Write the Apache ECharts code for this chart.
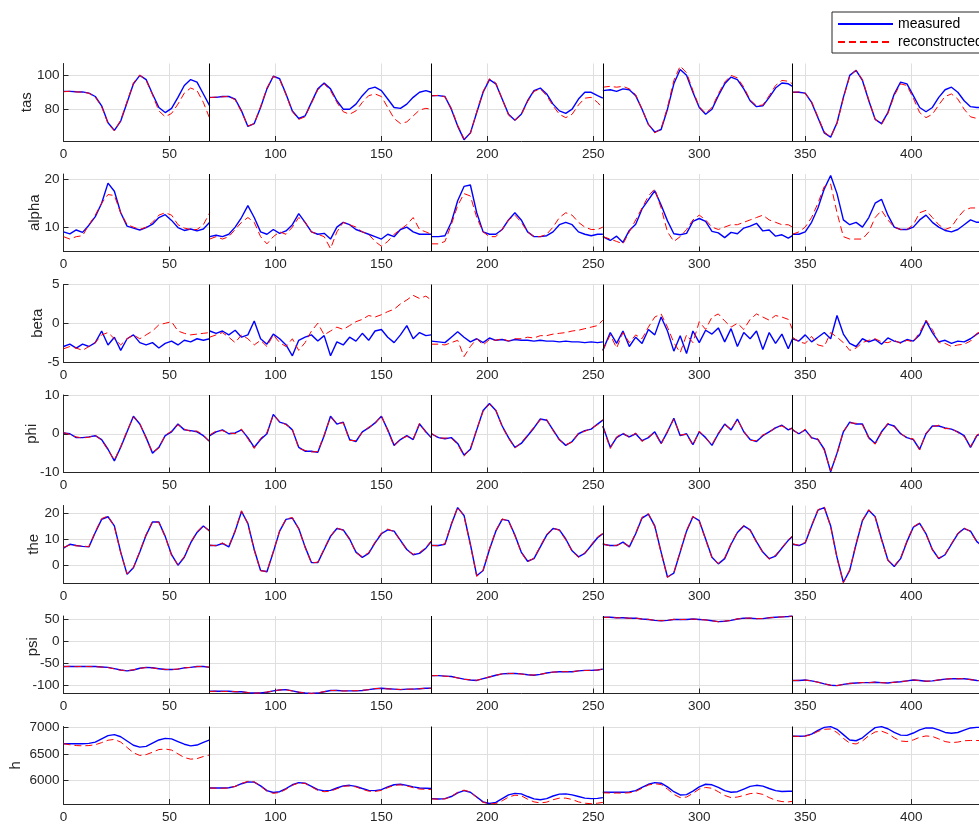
<!DOCTYPE html>
<html>
<head>
<meta charset="utf-8">
<script src="https://cdn.jsdelivr.net/npm/echarts@6.0.0/dist/echarts.min.js"></script>
<style>
html,body{margin:0;padding:0;background:#fff;}
#chart{width:979px;height:825px;}
</style>
</head>
<body>
<div id="chart"></div>
<script>
// ---- time stamps (segments separated by a repeated boundary time) ----
const t = [
  0,3,6,9,12,15,18,21,24,27,30,33,36,39,42,45,48,51,54,57,60,63,66,69,
  69,72,75,78,81,84,87,90,93,96,99,102,105,108,111,114,117,120,123,126,129,132,135,138,141,144,147,150,153,156,159,162,165,168,171,173.5,
  173.5,177,180,183,186,189,192,195,198,201,204,207,210,213,216,219,222,225,228,231,234,237,240,243,246,249,252,254.5,
  254.5,258,261,264,267,270,273,276,279,282,285,288,291,294,297,300,303,306,309,312,315,318,321,324,327,330,333,336,339,342,344,
  344,347,350,353,356,359,362,365,368,371,374,377,380,383,386,389,392,395,398,401,404,407,410,413,416,419,422,425,428,431,434
];
const segmentBounds = [69, 173.5, 254.5, 344];
const xTicks = [0,50,100,150,200,250,300,350,400];

const tasMeas = [
  90.5,90.5,90.3,90.2,89.5,87.5,82,72,67.5,73,84,95,100,97.5,89,81,78,80.5,87,94,97.5,96,89,82,
  87,87,87.5,87.5,86,79,69.8,71.5,81,92,99.5,98,89,79,74.5,76,84,92,95.5,92,85,80,80,83,88,92,93,91,86,81,80.5,83,87,90,91,90,
  88,88,87.5,80,70,62,66,78,90,97.5,95,86,77,73.5,77,85,91,92.5,89,83,79,77.5,80,86,90,90,88,86.5,
  91,91.5,90.5,92,91.5,88,80,71,66.5,68,80,95,103.5,100,90,81,77,80,88,95,99,97.5,92,85,81.5,82,87,92.5,95.5,95,93.5,
  90,90,89.5,84,75,66,63.5,72,87,100,103,97,85,74,71.5,78,89,96,95,88,81,78.5,81,87,91.5,93,90,85,81.5,81,81
];
const tasRec = [
  90.3,90.6,90.2,90.1,89.4,87.2,81.5,71.5,67.2,73.5,84.5,95.5,100.2,97,88.5,79,75.5,77.5,83,89.5,92.5,91,84,74.5,
  86.8,87.2,87.3,87.6,85.5,78.5,70,71.5,81.5,92.5,99.5,97.5,88.5,78.5,74,75.5,83.5,91.5,95,91,84,78.5,77,79,84,88,89,87.5,81,74.5,71.5,72.5,76,79.5,80.5,80,
  87.8,88.2,87.3,80.5,70.5,62.5,65.5,78.5,90.5,98,95.5,86,76.5,73.5,76.5,84.5,90.5,92,88,82,77,75,77,82.5,86.5,87,84,80.5,
  93,93.5,93,93.5,92,88.5,80,71,66,68.5,81,97,105.5,101.5,91,81.5,77.5,81,89,96,100,98.5,93,85.5,82,82.5,88,94,97,96.5,95,
  90,90.2,89.3,84.5,75.5,66.5,63.5,71.5,86.5,99.5,103,97.5,85.5,74,71,77.5,88,95,94,86.5,78,75,77,82.5,87.5,89,86,80,75.5,74.5,75
];
const alphaMeas = [
  9,8.6,9.4,8.9,10.4,12.2,15,19.2,17.5,13,10.2,9.8,9.4,9.9,10.6,12,12.6,11.4,9.9,9.3,9.6,9.2,9.6,11,
  8,8.3,8,8.5,10,12,14.5,12,9,8.5,9.5,8.7,9.2,10.5,12.8,11,9,8.5,8.7,7.5,10,11,10.5,9.5,9,8.5,8,7.5,8.5,8,9.5,10,9,8.5,8.5,8.5,
  8,8,8.2,11,15.5,18.5,18.8,13,9,8.5,8.5,9.5,11.5,13,11.5,9,8,8,8.2,9,10.5,11,10.5,9,8.5,8.2,8.5,8.5,
  8,7.2,8.1,6.8,9.3,10.6,13.8,15.7,17.6,14.6,11.3,8.6,8.4,8.7,11.2,11.8,11.2,9.1,8.8,7.8,8.9,8.6,9.8,10.2,10.8,9.2,9.4,8.1,8.4,7.7,8.2,
  8.5,8.5,9,11,14,18,20.8,17,11.5,10.5,11,10,12,15,15.8,12.5,10,9.5,9.5,10,11.5,12.5,11,10,9.3,9,9.5,10.5,11.5,11,11
];
const alphaRec = [
  8,7.5,8,8.2,10.5,12.5,15,16.8,16.6,13,10.5,10,9.5,10,11,12.5,13,12.5,10.5,9.8,9.5,9.5,10.5,13,
  7.5,8,7.5,8,9.5,11,12,11,8,6.5,8,9,8.5,10,12,11,9,8.5,8,5.5,9,11,10.5,10,9,8.5,7,6,7,8.5,9.5,10.5,12,9.5,9,8.5,
  6.5,6.5,7,10.5,14.5,17,16.5,12,9,8,8,9.5,11.5,12.5,11,9,8,8,8.5,10,12,13,12.5,11,10,9.5,9.5,10,
  8,7.5,7,6.5,9,11.5,14,16.5,18,14,9,7,8,9.5,11.5,12.5,11.5,10,9.5,10,10.5,10.5,11,11.5,12,12.5,11.5,11,10.5,10.5,10,
  8.5,9,10,12,15,18.5,19,13,8,7.5,7.5,7.5,9,12,13.5,11.5,10,9.5,9.5,10.5,13,13.5,12,10.5,9.5,10,12,13.5,14,14,14
];
const betaMeas = [
  -3,-2.7,-3.2,-2.7,-3,-2.5,-1,-2.8,-1.8,-3.5,-2,-1.5,-2.5,-2.8,-2.5,-3.2,-2.6,-2.3,-2.8,-2.2,-2.4,-2,-2.2,-2,
  -1,-1.3,-1,-1.5,-0.9,-1.8,-1.5,0.3,-2,-2.7,-1.4,-2,-2.8,-4.2,-2.2,-1.8,-1.5,-2.3,-1.6,-4.2,-2.4,-2.8,-1.8,-2.3,-1.3,-2.2,-1,-0.8,-1.8,-2.5,-1.5,-0.3,-2,-1.2,-1.6,-1.5,
  -2.3,-2.4,-2.5,-1.8,-1.1,-1.8,-2.4,-2,-2.5,-1.9,-2.2,-2.1,-2.3,-2.1,-2.2,-2.2,-2.3,-2.2,-2.3,-2.3,-2.4,-2.3,-2.4,-2.4,-2.5,-2.4,-2.5,-2.4,
  -3.5,-1.2,-2.6,-1,-3,-1.8,-2.6,-0.8,-1.5,0.8,-1,-3.6,-1.6,-3.9,-1,-2.5,-0.9,-1.4,-0.6,-2.4,-0.7,-3,-1.2,-2,-1,-3.4,-1.2,-2.6,-1.4,-3.3,-2,
  -2,-2.3,-1.5,-2.4,-1.8,-1.2,-2,1,-1.4,-2.6,-3,-2,-2.4,-2.1,-2.7,-1.9,-2.3,-2.5,-2.1,-2.3,-1.5,0.3,-1.2,-2.4,-2.2,-2.6,-2.3,-2.4,-2,-1.4,-1
];
const betaRec = [
  -3.3,-3,-3.2,-3.5,-3,-2.5,-1.5,-1.2,-2,-2.8,-2,-1.5,-2,-1.5,-1,-0.2,0,0.2,-1,-1.3,-1.5,-1.4,-1.3,-1.2,
  -1.8,-1.5,-1.2,-1.8,-2.5,-1.5,-2,-2.8,-2.2,-3,-1.5,-2.5,-3,-2,-3.5,-2.5,-1,0,-1.5,-1,-0.5,-0.8,-0.3,0.2,0.5,1,0.8,1.1,1.5,1.8,2.5,3,3.6,3.2,3.5,3,
  -2.7,-2.7,-2.8,-2.5,-2.2,-4.3,-3,-2,-2.8,-2.1,-2.2,-2,-2.3,-2,-2,-1.8,-1.9,-1.6,-1.6,-1.4,-1.3,-1.2,-1,-0.9,-0.7,-0.5,-0.3,0.4,
  -3.5,-1.5,-3.2,-1.2,-2.5,-1.5,-2,-0.5,0.8,1.2,-0.5,-2.5,-3.8,-1.5,-2.5,0.2,-0.8,0.8,1.2,0.3,-0.5,0,-0.8,0.5,1.2,0.8,0.4,1,0.8,0.5,-0.8,
  -1.8,-2.4,-2.6,-1.7,-2.8,-3,-1.2,-1.8,-2.5,-3.5,-3.2,-2.5,-2.2,-2,-2.4,-2.5,-2.2,-2.6,-2.2,-2.4,-1.2,0.4,-0.8,-2.5,-2.6,-3,-2.8,-2.7,-2.3,-1.3,-1
];
const phiMeas = [
  0.2,0,-1,-1,-0.8,-0.5,-1.5,-4,-7,-3.5,0.5,4.5,2.5,-1,-5,-3.5,-0.5,0.5,2.5,1,0.8,0.5,-0.5,-2,
  -0.5,0.5,1,0,0.2,1,-1,-3.5,-1.5,0,5,3,2.5,1,-3.5,-4.5,-4.5,-4.8,-0.5,4.5,2.5,3,-1.5,-2,0.5,1.5,2.8,4.5,1,-3,-1.5,-0.5,-1.5,2.5,0.5,-1,
  0,-1,-1.3,-1,-2.5,-5.5,-4,1,6,7.8,6,2,-1,-3.5,-2.5,-0.5,1.5,3.8,3.5,1,-1.5,-3,-2,0,0.8,1.2,2.5,3.5,
  2,-3.5,-1,0,-0.8,0,-1.8,-1,0.5,-2.5,0.5,4,-0.5,0,-2.8,0.5,-1,-3,0,2.5,1,3.8,0.5,-1.5,-2,-0.5,0.5,1.5,2.2,1,1.5,
  1,0,1,-1,-1.5,-4,-9.8,-5,0.5,3,2.5,2.5,-1,-2.5,0.5,2.5,2,0,-1,-1.5,-4,0,2,2,1.5,1.2,0.5,-0.5,-3.5,-0.5,0.3
];
const phiRec = [
  0.3,-0.2,-0.8,-1.1,-0.9,-0.4,-1.7,-4.2,-6.8,-3.3,0.8,4.3,2.7,-1.2,-4.8,-3.7,-0.4,0.7,2.3,1.2,0.6,0.7,-0.3,-2.2,
  -0.3,0.7,0.8,0.2,0,1.2,-1.3,-3.8,-1.2,0.3,4.8,3.2,2.3,1.2,-3.8,-4.3,-4.7,-4.6,-0.3,4.3,2.7,2.8,-1.7,-1.8,0.3,1.7,2.6,4.7,0.8,-3.2,-1.3,-0.7,-1.3,2.7,0.3,-0.8,
  0.2,-1.2,-1.1,-1.2,-2.7,-5.8,-3.8,1.2,5.8,7.6,6.2,1.8,-1.2,-3.7,-2.3,-0.3,1.7,3.6,3.7,0.8,-1.7,-2.8,-2.2,0.2,0.6,1.4,2.3,3.7,
  1.8,-3.8,-0.8,0.2,-1,0.2,-2,-0.8,0.3,-2.7,0.7,3.7,-0.3,-0.2,-3,0.7,-1.2,-2.8,0.2,2.3,1.2,3.6,0.7,-1.7,-1.8,-0.3,0.3,1.7,2,1.2,1.3,
  1.2,-0.2,1.2,-1.2,-1.3,-4.3,-9.5,-5.3,0.7,2.8,2.7,2.3,-1.2,-2.7,0.3,2.7,1.8,0.2,-1.2,-1.3,-4.2,0.2,1.8,2.2,1.3,1.4,0.3,-0.7,-3.3,-0.3,0.5
];
const theMeas = [
  6.5,8,7.5,7.2,7,12.5,17.5,18.5,15,5,-3.5,-1,5,11.5,16.5,16.5,11,4,0,3,8.5,12.5,15,13,
  7.5,7.5,8.3,7,13,20.5,16,6,-2,-2.5,5,13,17.5,18,14,7,1,1,6,11,14,13.5,10,5,3,4.5,8.5,12,13.5,13,9.5,6,4,4.5,6.5,9,
  7.5,7.5,8,15.5,22,19,8,-4,-2,6,13,17.5,17,11.5,5,1.5,2.5,7,11.5,14,13.5,10,5.5,3.2,4.5,7.5,10.5,12,
  8,7.5,7.5,8.8,7,12,18,19.5,15,5,-4.5,-3,5,13,18.5,17,10,3,0.5,2.5,8,12.5,15,13.5,9,5,2.5,3.5,6.5,9.5,11,
  8,7.5,8.5,15,21,22,15,3,-6.5,-2,8,17,21,18.5,10,2,-0.5,2.5,9,14.5,16,12,6,2.5,4,8,12,14,13,9,7
];
const theRec = [
  6.8,7.7,7.4,7.3,7.1,12.8,17.8,18.8,14.7,4.7,-3.3,-0.8,5.3,11.8,16.8,16.3,10.8,3.7,0.2,3.3,8.8,12.8,15.2,12.8,
  7.7,7.4,8.5,7.2,13.3,20.8,15.7,5.7,-2.2,-2.3,5.3,13.2,17.7,18.2,13.8,6.8,0.8,1.2,6.3,11.2,14.2,13.3,9.8,4.8,3.2,4.8,8.8,12.3,13.8,12.8,9.3,5.8,4.2,4.8,6.8,9.3,
  7.6,7.4,8.2,15.8,22.2,18.7,7.7,-4.3,-1.8,6.3,13.2,17.7,16.8,11.2,4.8,1.3,2.7,7.3,11.8,14.2,13.3,9.7,5.3,3,4.7,7.8,10.8,12.2,
  8.2,7.3,7.6,8.5,7.2,12.3,18.3,19.7,14.7,4.7,-4.7,-2.8,5.3,13.3,18.7,16.8,9.7,2.8,0.7,2.8,8.3,12.7,15.2,13.3,8.7,4.8,2.3,3.8,6.8,9.7,11.2,
  8.2,7.6,8.7,15.3,21.2,22.2,14.7,2.7,-6.7,-1.7,8.3,17.2,21.2,18.3,9.7,1.8,-0.3,2.8,9.3,14.7,16.2,11.8,5.8,2.7,4.2,8.3,12.2,14.2,12.8,8.7,6.8
];
const psiMeas = [
  -58,-58,-58,-58,-58,-58,-59,-60,-63,-66,-68,-66,-62,-60,-61,-63,-65,-65,-64,-61,-60,-58,-58,-60,
  -115,-115,-115,-115,-116,-116,-118,-119,-119,-117,-114,-112,-111,-114,-117,-119,-120,-119,-116,-113,-113,-114,-114,-114,-113,-111,-109,-108,-109,-110,-111,-110,-110,-109,-108,-108,
  -79,-79,-80,-81,-84,-87,-89,-90,-86,-82,-78,-75,-74,-74,-75,-77,-78,-76,-73,-71,-70,-70,-70,-68,-67,-67,-66,-64,
  55,55,54,54,53,53,51,50,48,47,48,50,50,50,51,50,49,47,45,46,48,51,53,53,52,52,54,55,56,57,58,
  -90,-90,-89,-91,-94,-98,-101,-102,-99,-97,-96,-95,-95,-94,-95,-96,-94,-93,-91,-89,-90,-92,-91,-89,-87,-86,-86,-86,-88,-90,-91
];
const psiRec = [
  -58.5,-57.5,-58.3,-57.8,-58.2,-58.4,-59.3,-60.5,-63.5,-66.5,-67.5,-65.5,-62.3,-60.4,-61.3,-63.4,-64.6,-65.3,-63.6,-61.4,-59.7,-58.3,-57.8,-59.6,
  -115.5,-114.6,-115.3,-115.4,-115.7,-116.4,-117.6,-119.3,-118.7,-116.6,-114.3,-111.7,-111.4,-114.3,-116.7,-119.2,-119.7,-118.6,-115.6,-113.3,-112.8,-114.3,-113.7,-113.6,-112.7,-111.3,-108.7,-108.3,-109.4,-110.3,-110.6,-110.4,-109.6,-109.3,-107.7,-108.2,
  -79.4,-78.6,-80.3,-81.3,-84.3,-87.4,-88.7,-89.6,-86.4,-81.7,-78.3,-74.7,-74.3,-73.7,-75.3,-77.3,-77.6,-75.7,-73.3,-70.7,-70.3,-69.7,-70.3,-67.7,-67.3,-66.7,-66.3,-63.7,
  54.6,55.3,53.7,54.3,52.7,53.3,50.7,50.3,47.7,47.3,47.7,50.3,49.7,50.3,50.7,50.3,48.7,47.3,44.7,46.3,47.7,51.3,52.7,53.3,51.7,52.3,53.7,55.3,55.7,57.3,57.7,
  -90.3,-89.7,-89.3,-90.7,-94.3,-97.7,-101.3,-101.7,-99.3,-96.7,-96.3,-94.7,-95.3,-93.7,-95.3,-95.7,-94.3,-92.7,-91.3,-88.7,-90.3,-91.7,-91.3,-88.7,-87.3,-85.7,-86.3,-85.7,-88.3,-89.7,-91.3
];
const hMeas = [
  6690,6690,6690,6690,6695,6720,6780,6840,6860,6820,6740,6660,6625,6640,6700,6760,6790,6780,6730,6680,6650,6665,6715,6760,
  5860,5860,5860,5865,5890,5940,5975,5970,5900,5810,5775,5790,5850,5920,5960,5950,5890,5830,5805,5815,5860,5900,5910,5890,5850,5815,5810,5830,5880,5920,5930,5910,5880,5860,5855,5850,
  5660,5655,5660,5700,5770,5810,5780,5690,5600,5570,5590,5660,5730,5760,5750,5700,5655,5640,5660,5710,5745,5750,5730,5700,5670,5660,5665,5680,
  5780,5780,5780,5780,5785,5810,5870,5930,5960,5950,5880,5790,5730,5735,5800,5880,5930,5920,5870,5810,5780,5790,5840,5890,5910,5895,5850,5810,5795,5800,5800,
  6830,6830,6835,6870,6940,6995,7010,6960,6860,6760,6745,6800,6900,6990,7010,6970,6900,6850,6845,6890,6950,6985,6985,6950,6900,6885,6900,6945,6985,6995,6995
];
const hRec = [
  6690,6670,6655,6650,6655,6670,6710,6755,6770,6720,6620,6520,6470,6485,6530,6580,6590,6570,6500,6430,6400,6410,6450,6480,
  5860,5855,5855,5860,5890,5945,5985,5975,5895,5800,5760,5775,5835,5910,5955,5945,5880,5815,5790,5800,5845,5890,5900,5880,5835,5800,5795,5815,5865,5910,5920,5900,5865,5840,5835,5830,
  5655,5650,5655,5700,5780,5820,5785,5680,5590,5565,5568,5620,5690,5725,5715,5650,5600,5580,5595,5640,5670,5670,5645,5600,5575,5565,5575,5590,
  5770,5765,5765,5765,5770,5795,5855,5915,5940,5925,5840,5740,5680,5690,5760,5840,5870,5855,5790,5720,5680,5690,5720,5755,5765,5740,5680,5630,5605,5600,5610,
  6830,6825,6830,6860,6920,6960,6965,6900,6790,6700,6685,6740,6840,6910,6925,6880,6800,6740,6730,6760,6810,6835,6825,6780,6730,6710,6720,6745,6750,6750,6745
];

const panelNames = ['tas','alpha','beta','phi','the','psi','h'];
const measList = [tasMeas, alphaMeas, betaMeas, phiMeas, theMeas, psiMeas, hMeas];
const recList  = [tasRec, alphaRec, betaRec, phiRec, theRec, psiRec, hRec];
const yMinList = [61.2, 4.9, -5, -10, -6.8, -120, 5560];
const yMaxList = [107, 21.1, 5, 10, 22.8, 58, 7012];
const yTickList = [[80,100],[10,20],[-5,0,5],[-10,0,10],[0,10,20],[-100,-50,0,50],[6000,6500,7000]];

// ---- layout / style ----
const FONT = '"Liberation Sans", Arial, Helvetica, sans-serif';
const AX = '#262626';
const GRIDC = '#dfdfdf';
const gridTop0 = 63.5, gridStep = 110.5, gridH = 77.5;
const nameGaps = [29.5, 21, 18.5, 24.5, 22, 23, 40.5];
const namePads = [0, 0, 0, 0, 0, [0, 0, 0, 16], 0];

function pairs(vals) {
  const out = [];
  for (let i = 0; i < t.length; i++) {
    if (i > 0 && t[i] === t[i - 1]) out.push([t[i], '-']);
    out.push([t[i], vals[i]]);
  }
  return out;
}
const plain = v => String(v);

const grids = [], xAxes = [], yAxes = [], series = [];
panelNames.forEach((nm, i) => {
  grids.push({ left: 63.5, width: 915.5, top: gridTop0 + gridStep * i, height: gridH,
               containLabel: false, outerBoundsMode: 'none' });
  xAxes.push({
    type: 'value', gridIndex: i, min: 0, max: 432,
    axisLine: { show: true, onZero: false, lineStyle: { color: AX, width: 1 } },
    axisTick: { show: true, inside: true, length: 5, customValues: xTicks, lineStyle: { color: AX } },
    axisLabel: { customValues: xTicks, fontSize: 13.5, color: AX, margin: 6, fontFamily: FONT, formatter: plain, hideOverlap: false },
    splitLine: { show: true, lineStyle: { color: GRIDC, width: 1 } }
  });
  yAxes.push({
    type: 'value', gridIndex: i, min: yMinList[i], max: yMaxList[i],
    name: nm, nameLocation: 'middle', nameGap: nameGaps[i], nameMoveOverlap: false,
    nameTextStyle: { fontSize: 15, color: AX, fontFamily: FONT, padding: namePads[i] },
    axisLine: { show: true, onZero: false, lineStyle: { color: AX, width: 1 } },
    axisTick: { show: true, inside: true, length: 5, customValues: yTickList[i], lineStyle: { color: AX } },
    axisLabel: { customValues: yTickList[i], fontSize: 13.5, color: AX, margin: 4, fontFamily: FONT, formatter: plain, hideOverlap: false },
    splitLine: { show: true, lineStyle: { color: GRIDC, width: 1 } }
  });
  series.push({
    name: 'measured', type: 'line', xAxisIndex: i, yAxisIndex: i,
    data: pairs(measList[i]), symbol: 'none', showSymbol: false, connectNulls: false,
    lineStyle: { color: '#0000ff', width: 1.4 }, itemStyle: { color: '#0000ff' },
    animation: false, z: 2,
    markLine: {
      silent: true, symbol: ['none', 'none'], label: { show: false }, animation: false,
      lineStyle: { color: '#000000', width: 1, type: 'solid' },
      emphasis: { disabled: true },
      data: segmentBounds.map(b => ({ xAxis: b }))
    }
  });
  series.push({
    name: 'reconstructed', type: 'line', xAxisIndex: i, yAxisIndex: i,
    data: pairs(recList[i]), symbol: 'none', showSymbol: false, connectNulls: false,
    lineStyle: { color: '#ff0000', width: 1, type: [7, 4] }, itemStyle: { color: '#ff0000' },
    animation: false, z: 3
  });
});

const chart = echarts.init(document.getElementById('chart'), null, { renderer: 'canvas' });
chart.setOption({
  backgroundColor: '#ffffff',
  animation: false,
  textStyle: { fontFamily: FONT },
  legend: {
    data: ['measured', 'reconstructed'],
    orient: 'vertical', left: 832, top: 12,
    itemWidth: 55, itemHeight: 14, itemGap: 4,
    padding: [5, 5, 4, 5],
    borderColor: AX, borderWidth: 1, backgroundColor: '#ffffff',
    itemStyle: { opacity: 0, borderWidth: 0 },
    textStyle: { fontSize: 14, color: '#000000', fontFamily: FONT },
    selectedMode: false
  },
  grid: grids,
  xAxis: xAxes,
  yAxis: yAxes,
  series: series
});
</script>
</body>
</html>
